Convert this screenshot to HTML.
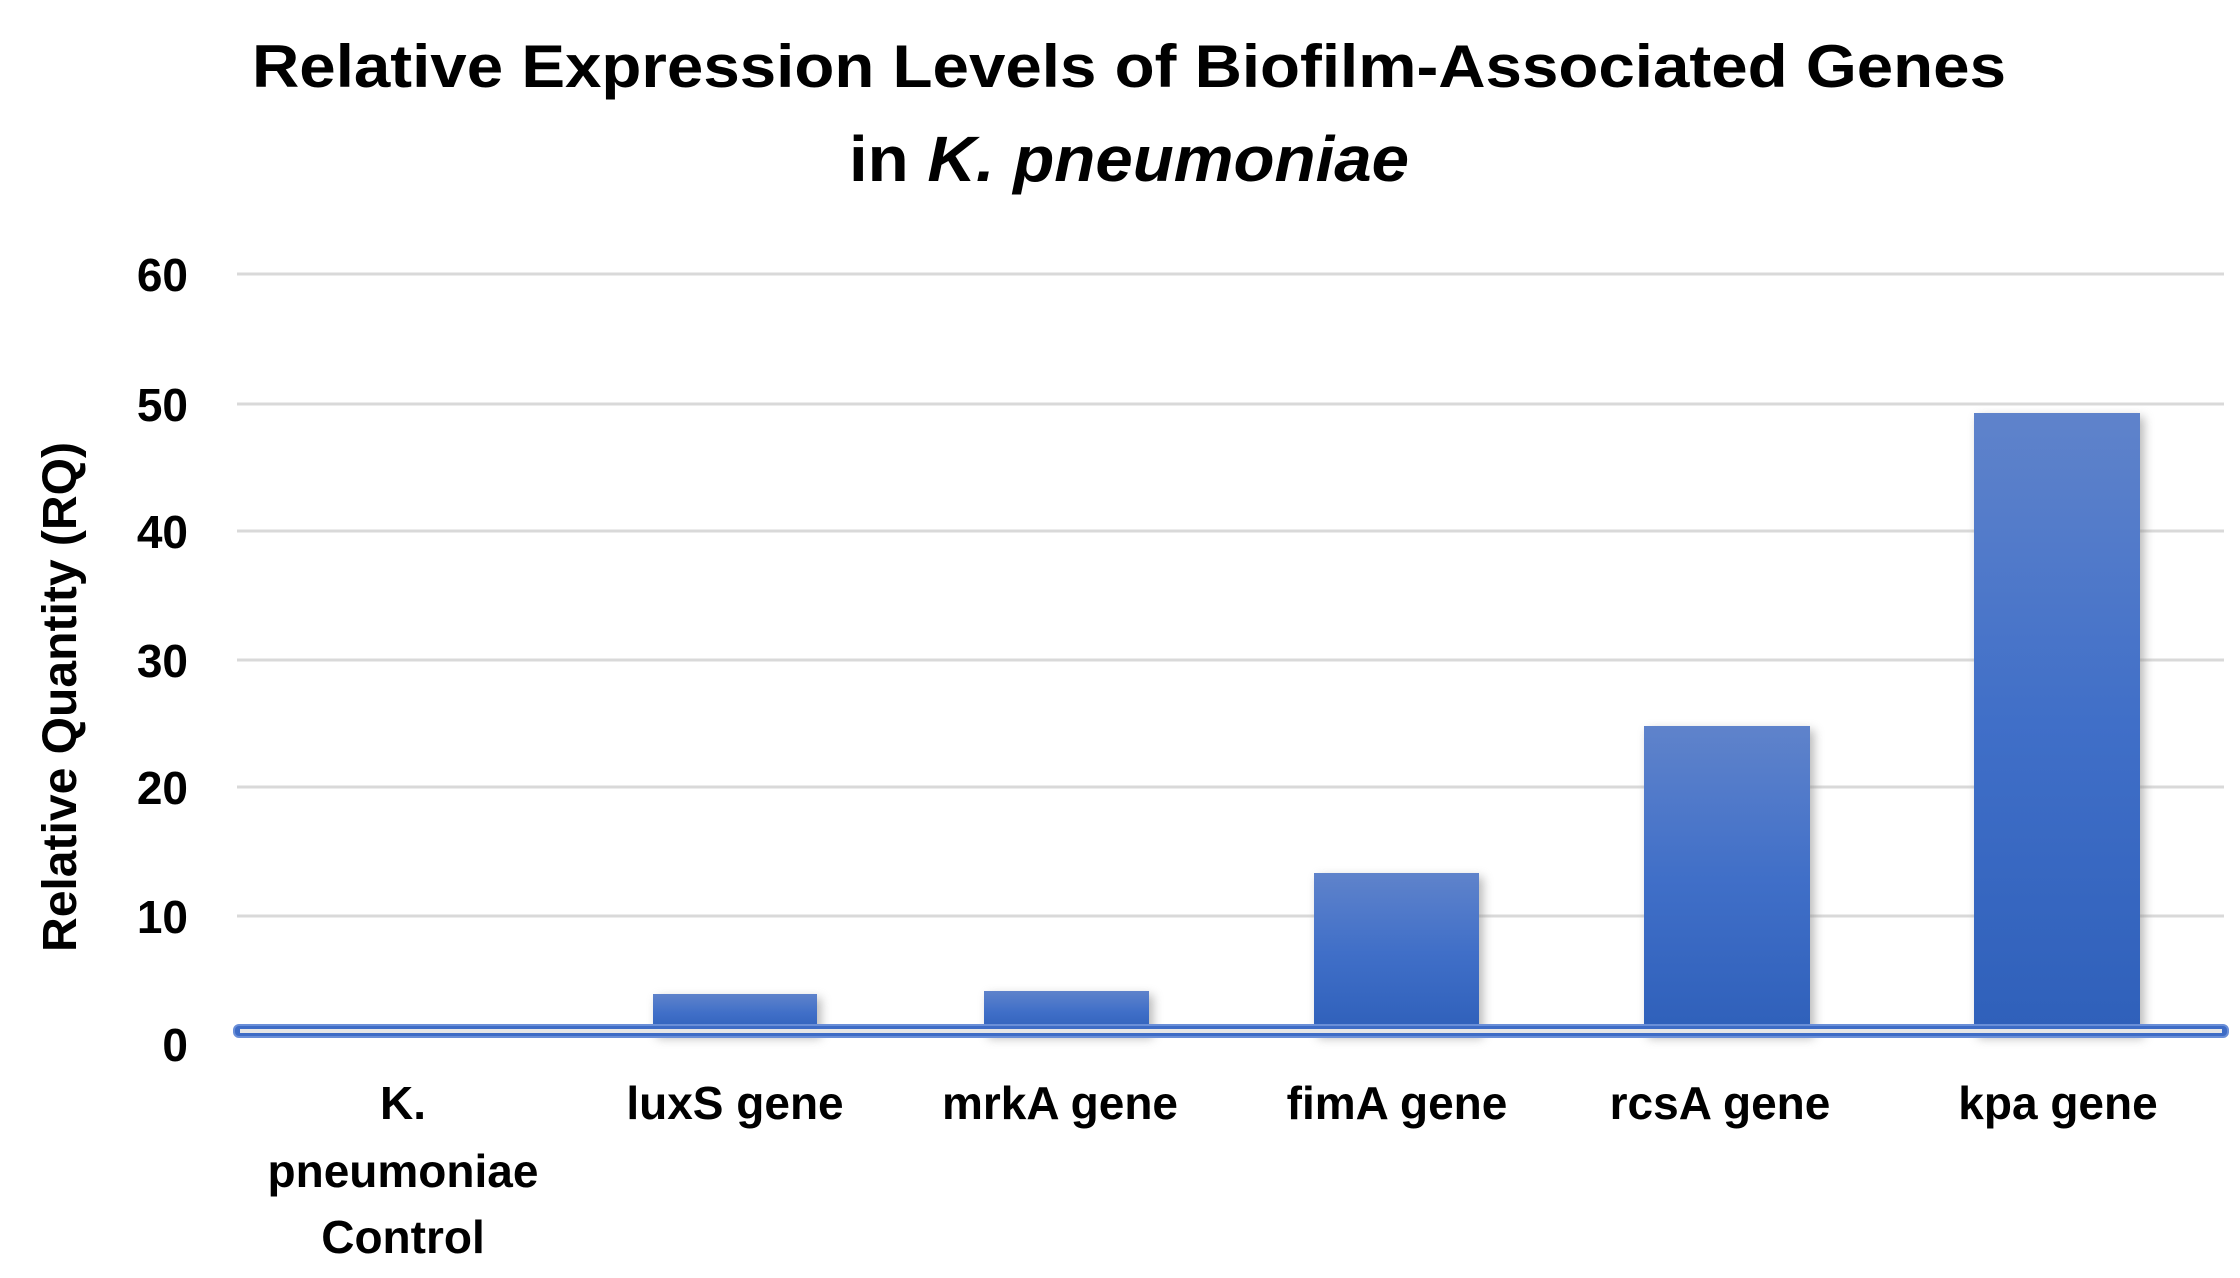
<!DOCTYPE html>
<html><head><meta charset="utf-8"><style>
html,body{margin:0;padding:0;background:#fff;}
svg{display:block;}
text{font-family:"Liberation Sans",sans-serif;font-weight:bold;fill:#000;}
</style></head><body>
<svg width="2240" height="1278" viewBox="0 0 2240 1278" xmlns="http://www.w3.org/2000/svg">
<defs>
<linearGradient id="g" x1="0" y1="0" x2="0" y2="1">
<stop offset="0" stop-color="#5f83cb"/><stop offset="0.5" stop-color="#406fc8"/><stop offset="1" stop-color="#2f60ba"/>
</linearGradient>
<filter id="s" x="-20%" y="-10%" width="140%" height="120%"><feGaussianBlur stdDeviation="5"/></filter>
</defs>
<text x="1129" y="87" font-size="60" text-anchor="middle" textLength="1754" lengthAdjust="spacingAndGlyphs">Relative Expression Levels of Biofilm-Associated Genes</text>
<text x="1129" y="181" font-size="64" text-anchor="middle" textLength="560" lengthAdjust="spacingAndGlyphs">in <tspan font-style="italic">K. pneumoniae</tspan></text>
<g stroke="#d9d9d9" stroke-width="3">
<line x1="237" y1="274" x2="2224" y2="274"/>
<line x1="237" y1="404" x2="2224" y2="404"/>
<line x1="237" y1="531" x2="2224" y2="531"/>
<line x1="237" y1="660" x2="2224" y2="660"/>
<line x1="237" y1="787" x2="2224" y2="787"/>
<line x1="237" y1="916" x2="2224" y2="916"/>
</g>
<g font-size="46" text-anchor="end">
<text x="188" y="291">60</text><text x="188" y="421">50</text><text x="188" y="548">40</text>
<text x="188" y="677">30</text><text x="188" y="804">20</text><text x="188" y="933">10</text><text x="188" y="1061">0</text>
</g>
<text transform="translate(76,697) rotate(-90)" font-size="48" text-anchor="middle" textLength="510" lengthAdjust="spacingAndGlyphs">Relative Quantity (RQ)</text>
<g fill="#888" opacity="0.6" filter="url(#s)">
<rect x="657" y="998" width="164" height="40"/><rect x="988" y="995" width="165" height="43"/>
<rect x="1318" y="877" width="165" height="161"/><rect x="1648" y="730" width="166" height="308"/>
<rect x="1978" y="417" width="166" height="621"/>
</g>
<g fill="url(#g)">
<rect x="653" y="994" width="164" height="38"/><rect x="984" y="991" width="165" height="41"/>
<rect x="1314" y="873" width="165" height="159"/><rect x="1644" y="726" width="166" height="306"/>
<rect x="1974" y="413" width="166" height="619"/>
</g>
<rect x="234" y="1025" width="1994" height="12" rx="5" fill="#3e6cc6" stroke="#6a8fd8" stroke-width="2"/>
<rect x="240" y="1029" width="1982" height="4" fill="#e6e6e6"/>
<g font-size="46" text-anchor="middle">
<text x="403" y="1119">K.</text><text x="403" y="1187">pneumoniae</text><text x="403" y="1253">Control</text>
<text x="735" y="1119">luxS gene</text><text x="1060" y="1119">mrkA gene</text>
<text x="1397" y="1119">fimA gene</text><text x="1720" y="1119">rcsA gene</text><text x="2058" y="1119">kpa gene</text>
</g>
</svg>
</body></html>
